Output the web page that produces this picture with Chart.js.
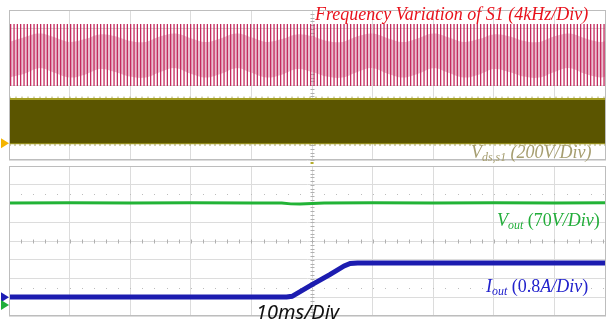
<!DOCTYPE html>
<html>
<head>
<meta charset="utf-8">
<script src="https://cdn.jsdelivr.net/npm/chart.js@4/dist/chart.umd.min.js"></script>
<style>
  html, body { margin: 0; padding: 0; background: #fff; overflow: hidden; }
  #wrap { position: relative; width: 606px; height: 320px; }
  canvas { position: absolute; left: 0; }
  #topChart { top: 0; }
  #botChart { top: 164px; }
  .lbl { position: absolute; white-space: nowrap; line-height: 1; font-family: "Liberation Serif", "Times New Roman", serif; }
  .lbl i { font-style: italic; }
  .lbl sub { font-size: 0.66em; vertical-align: -0.28em; line-height: 0; font-style: italic; }
</style>
</head>
<body>
<div id="wrap">
  <canvas id="topChart" width="606" height="164"></canvas>
  <canvas id="botChart" width="606" height="156"></canvas>
  <div class="lbl" style="left:315px;top:5px;font-size:18px;color:#e8121c;font-style:italic">Frequency Variation of S1 (4kHz/Div)</div>
  <div class="lbl" style="left:471px;top:143px;font-size:18px;color:#a69e70;font-style:italic">V<sub>ds,s1</sub> (200V/Div)</div>
  <div class="lbl" style="left:497px;top:211px;font-size:18px;color:#22ad3a"><i>V</i><sub>out</sub> (70<i>V/Div</i>)</div>
  <div class="lbl" style="left:486px;top:277px;font-size:18px;color:#2222cc"><i>I</i><sub>out</sub> (0.8<i>A/Div</i>)</div>
  <div class="lbl" style="left:256px;top:302px;font-size:20px;color:#111;font-family:'Noto Sans',sans-serif;font-style:italic">10ms/Div</div>
</div>
<script>
// time axis (ms), 10 ms/div, right part of the screen is cropped
const timeTicks = [-50, -40, -30, -20, -10, 0, 10, 20, 30, 40];
const timeSpan = [-50, 48.5];
const divTicks = [-4, -3, -2, -1, 0, 1, 2, 3, 4];

// top panel (values in divisions)
const pinkHigh = 3.25;
const pinkLow = -0.05;
const lightT = [-50, -47.5, -45, -42.5, -40, -37.5, -35, -32.5, -30, -27.5, -25, -22.5, -20, -17.5, -15, -12.5, -10, -7.5, -5, -2.5,
                0, 2.5, 5, 7.5, 10, 12.5, 15, 17.5, 20, 22.5, 25, 27.5, 30, 32.5, 35, 37.5, 40, 42.5, 45, 47.5, 48.5];
const lightTop = [2.3, 2.55, 2.75, 2.55, 2.3, 2.45, 2.7, 2.6, 2.35, 2.3, 2.6, 2.75, 2.5, 2.3, 2.5, 2.75, 2.55, 2.3, 2.45, 2.7,
                  2.6, 2.35, 2.3, 2.6, 2.75, 2.5, 2.3, 2.5, 2.75, 2.55, 2.3, 2.45, 2.7, 2.6, 2.35, 2.3, 2.6, 2.75, 2.5, 2.3, 2.35];
const lightBot = [0.4, 0.6, 0.9, 0.65, 0.4, 0.55, 0.85, 0.7, 0.45, 0.4, 0.7, 0.9, 0.6, 0.4, 0.6, 0.9, 0.65, 0.4, 0.55, 0.85,
                  0.7, 0.45, 0.4, 0.7, 0.9, 0.6, 0.4, 0.6, 0.9, 0.65, 0.4, 0.55, 0.85, 0.7, 0.45, 0.4, 0.7, 0.9, 0.6, 0.4, 0.45];
const vdsHigh = -0.75;
const vdsLow = -3.1;

// bottom panel (values in divisions)
const greenT = [-50, -40, -30, -20, -10, -5, -3.5, -2, 0, 2, 10, 20, 30, 40, 48.5];
const greenV = [2.03, 2.04, 2.03, 2.04, 2.03, 2.03, 1.98, 1.97, 2.0, 2.03, 2.04, 2.03, 2.04, 2.03, 2.04];
const blueT = [-50, -4.2, -3.3, 0, 3, 5.3, 6.3, 7.5, 48.5];
const blueV = [-2.99, -2.99, -2.95, -2.33, -1.78, -1.33, -1.2, -1.17, -1.17];

// channel ground markers on the left edge
const topMarkers = [{ level: -3.1, color: '#f4b400' }];
const botMarkers = [{ level: -3.0, color: '#1c1cb4' }, { level: -3.41, color: '#1fae3a' }];

const pts = (xs, ys) => xs.map((x, i) => ({ x: x, y: ys[i] }));
const flat = v => timeSpan.map(x => ({ x: x, y: v }));

function stripePattern() {
    const c = document.createElement('canvas');
    c.width = 10; c.height = 2;
    const g = c.getContext('2d');
    g.fillStyle = '#c42c5e';
    [0, 3.4, 6.7].forEach(x => g.fillRect(x, 0, 1.3, 2));
    return g.createPattern(c, 'repeat');
}

// center line ticks and dot rows under the traces; frame and markers on top
const scopeDeco = {
    id: 'scopeDeco',
    beforeDatasetsDraw(chart, args, opts) {
        const ctx = chart.ctx, a = chart.chartArea;
        const xs = chart.scales.x, ys = chart.scales.y;
        const divX = xs.getPixelForValue(10) - xs.getPixelForValue(0);
        const divY = ys.getPixelForValue(0) - ys.getPixelForValue(1);
        const cx = Math.round(xs.getPixelForValue(0)) + 0.5;
        const cy = Math.round(ys.getPixelForValue(0)) + 0.5;
        ctx.save();
        ctx.strokeStyle = '#b0b0b0';
        ctx.lineWidth = 1;
        ctx.beginPath();
        for (let y = a.top; y <= a.bottom; y += divY / 5) {
            ctx.moveTo(cx - 2, Math.round(y) + 0.5); ctx.lineTo(cx + 2, Math.round(y) + 0.5);
        }
        if (opts.hTicks) {
            for (let x = a.left; x <= a.right; x += divX / 5) {
                ctx.moveTo(Math.round(x) + 0.5, cy - 2); ctx.lineTo(Math.round(x) + 0.5, cy + 2);
            }
        }
        ctx.stroke();
        ctx.fillStyle = '#bcbcbc';
        (opts.dotRows || []).forEach(lv => {
            const y = Math.round(ys.getPixelForValue(lv));
            for (let x = a.left; x <= a.right; x += divX / 5) ctx.fillRect(Math.round(x), y, 1, 1);
        });
        ctx.restore();
    },
    afterDatasetsDraw(chart, args, opts) {
        const ctx = chart.ctx, a = chart.chartArea;
        const xs = chart.scales.x, ys = chart.scales.y;
        ctx.save();
        ctx.strokeStyle = '#bdbdbd';
        ctx.lineWidth = 1;
        ctx.strokeRect(a.left + 0.5, a.top + 0.5, a.right - a.left - 1, a.bottom - a.top - 1);
        (opts.markers || []).forEach(m => {
            const y = ys.getPixelForValue(m.level);
            ctx.fillStyle = m.color;
            ctx.beginPath();
            ctx.moveTo(a.left - 8, y - 5); ctx.lineTo(a.left, y); ctx.lineTo(a.left - 8, y + 5);
            ctx.closePath(); ctx.fill();
        });
        if (opts.trigger) {
            const x = xs.getPixelForValue(0);
            ctx.fillStyle = '#b5ad2c';
            ctx.fillRect(x - 1.5, a.bottom + 2, 3, 3);
        }
        ctx.restore();
    }
};

function scopeOptions(pad, deco) {
    return {
        responsive: false,
        animation: false,
        layout: { padding: pad },
        plugins: { legend: { display: false }, tooltip: { enabled: false }, scopeDeco: deco },
        elements: { point: { radius: 0 } },
        scales: {
            x: {
                type: 'linear', min: timeSpan[0], max: timeSpan[1],
                afterBuildTicks: s => { s.ticks = timeTicks.map(v => ({ value: v })); },
                afterFit: s => { s.height = 0; },
                ticks: { display: false },
                grid: { color: '#dcdcdc', drawTicks: false },
                border: { display: false }
            },
            y: {
                min: -4, max: 4,
                afterBuildTicks: s => { s.ticks = divTicks.map(v => ({ value: v })); },
                afterFit: s => { s.width = 0; },
                ticks: { display: false },
                grid: { color: '#dcdcdc', drawTicks: false },
                border: { display: false }
            }
        }
    };
}

new Chart(document.getElementById('topChart'), {
    type: 'line',
    data: {
        datasets: [
            { data: flat(vdsHigh), borderColor: '#a39d22', borderWidth: 2, fill: '+1', backgroundColor: '#5b5500' },
            { data: flat(vdsLow), borderColor: '#a39d22', borderWidth: 2, fill: false },
            { data: flat(vdsLow - 0.1), borderColor: 'rgba(140,134,40,0.7)', borderWidth: 1, borderDash: [2, 3], fill: false },
            { data: flat(vdsHigh + 0.1), borderColor: 'rgba(140,134,40,0.5)', borderWidth: 1, borderDash: [2, 4], fill: false },
            { data: flat(pinkHigh), borderWidth: 0, fill: '+1', backgroundColor: stripePattern() },
            { data: flat(pinkLow), borderWidth: 0, fill: false },
            { data: pts(lightT, lightTop), borderWidth: 0, tension: 0.4, fill: '+1', backgroundColor: '#e9bccd' },
            { data: pts(lightT, lightBot), borderWidth: 0, tension: 0.4, fill: false }
        ]
    },
    options: scopeOptions({ left: 9, right: 0, top: 10, bottom: 4 }, { markers: topMarkers, trigger: true, hTicks: false }),
    plugins: [scopeDeco]
});

new Chart(document.getElementById('botChart'), {
    type: 'line',
    data: {
        datasets: [
            { data: pts(blueT, blueV), borderColor: '#1c1cb0', borderWidth: 5, fill: false },
            { data: pts(greenT, greenV), borderColor: '#22b336', borderWidth: 3, fill: false }
        ]
    },
    options: scopeOptions({ left: 9, right: 0, top: 2, bottom: 4 }, { markers: botMarkers, dotRows: [2.5, -2.5], hTicks: true }),
    plugins: [scopeDeco]
});
</script>
</body>
</html>
